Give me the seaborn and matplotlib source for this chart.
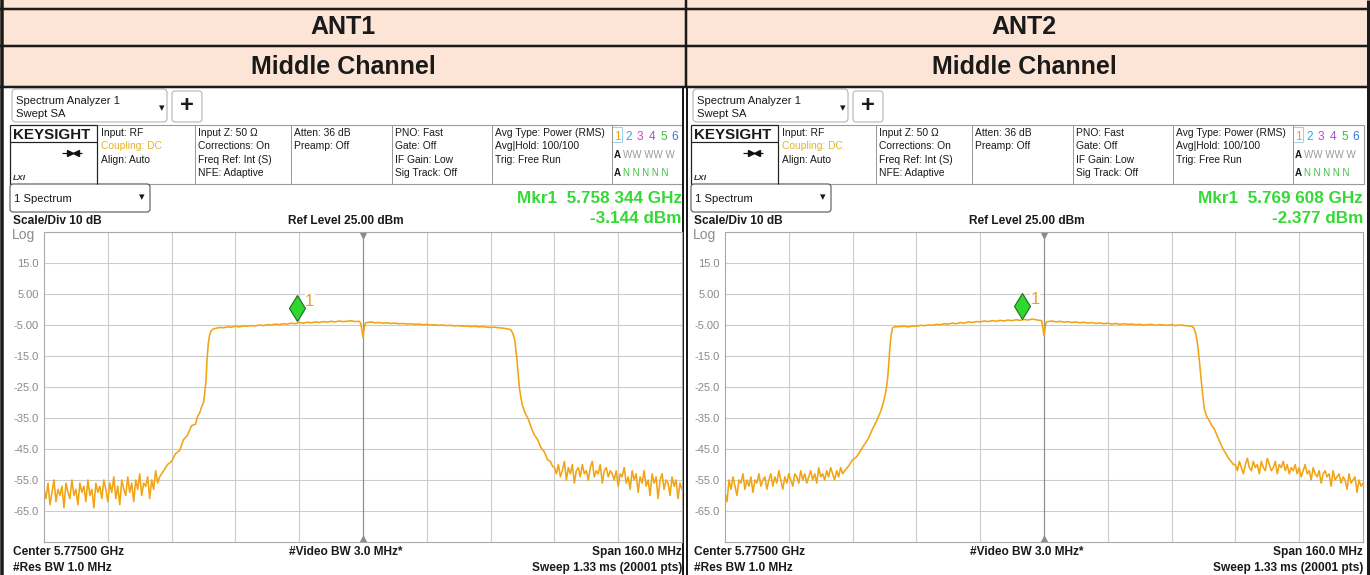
#Recreate two Keysight spectrum analyzer screenshots (ANT1 / ANT2, middle channel)

#Import the libraries
import numpy as np
import matplotlib
matplotlib.use('Agg')
import matplotlib.pyplot as plt
import seaborn as sns
from matplotlib.patches import Rectangle, FancyBboxPatch

sns.set_theme(style='white')
plt.rcParams['font.family'] = ['Liberation Sans', 'DejaVu Sans']

#Table headers and marker readouts
antennas = ['ANT1', 'ANT2']
channel = 'Middle Channel'
mkr_freq = [-16.656, -5.392]          # MHz offset from 5.775 GHz
mkr_level = [-3.144, -2.377]          # dBm
mkr_freq_text = ['Mkr1  5.758 344 GHz', 'Mkr1  5.769 608 GHz']
mkr_level_text = ['-3.144 dBm', '-2.377 dBm']

#Y axis (dBm)
y_ticks = [15, 5, -5, -15, -25, -35, -45, -55, -65]
y_labels = ['15.0', '5.00', '-5.00', '-15.0', '-25.0', '-35.0', '-45.0', '-55.0', '-65.0']

#Instrument settings text
info_cols = [
    ['Input: RF', 'Coupling: DC', 'Align: Auto'],
    ['Input Z: 50 Ω', 'Corrections: On', 'Freq Ref: Int (S)', 'NFE: Adaptive'],
    ['Atten: 36 dB', 'Preamp: Off'],
    ['PNO: Fast', 'Gate: Off', 'IF Gain: Low', 'Sig Track: Off'],
    ['Avg Type: Power (RMS)', 'Avg|Hold: 100/100', 'Trig: Free Run'],
]
bottom_left = ['Center 5.77500 GHz', '#Res BW 1.0 MHz']
bottom_mid = '#Video BW 3.0 MHz*'
bottom_right = ['Span 160.0 MHz', 'Sweep 1.33 ms (20001 pts)']

#ANT1 trace (dBm)
ant1_floor_lo = [-58, -61, -56, -63, -59, -55, -62, -58, -60, -57, -64, -56, -59, -61, -55, -60,
                 -58, -63, -56, -59, -57, -62, -55, -60, -58, -64, -56, -59, -57, -61, -55, -58,
                 -62, -56, -59, -54, -61, -57, -63, -55, -58, -60, -54, -59, -56, -62, -55, -58,
                 -53, -60, -56, -57, -54, -61, -55, -58, -52, -56, -54, -53]
ant1_skirt_lo_f = [-50, -49, -48, -47, -46, -45, -44, -43, -42, -41.5, -41, -40.5, -40, -39.7,
                   -39.4, -39.1, -38.8, -38.5, -38.2, -37.8, -37.3]
ant1_skirt_lo = [-52, -50, -49, -46.5, -45.5, -42, -40.5, -37.5, -37, -34.5, -33.5, -31.5, -30,
                 -27, -23.5, -16, -11, -8.5, -7.2, -6.5, -6.2]
ant1_plateau_lo = [-5.8, -5.9, -5.6, -5.7, -5.4, -5.6, -5.3, -5.4, -5.2, -5.3,
                   -5.0, -5.2, -4.9, -5.0, -4.7, -4.9, -4.6, -4.7, -4.4, -4.6,
                   -4.2, -4.4, -4.1, -4.3, -4.0, -4.2, -3.9, -4.1, -3.8, -4.0,
                   -3.7, -3.9, -3.8, -3.6, -3.9, -3.8]
ant1_dip = [-4.3, -6.5, -9.0, -6.0, -4.4]
ant1_plateau_hi = [-4.2, -4.0, -4.3, -4.2, -4.4, -4.3, -4.5, -4.4, -4.6, -4.5,
                   -4.7, -4.6, -4.8, -4.7, -4.9, -4.8, -5.0, -4.9, -5.1, -5.0,
                   -5.2, -5.1, -5.3, -5.2, -5.4, -5.3, -5.5, -5.4, -5.6, -5.5,
                   -5.7, -5.8, -5.7, -5.9, -6.0, -6.2]
ant1_skirt_hi_f = [37, 37.5, 38, 38.3, 38.6, 38.9, 39.2, 39.6, 40, 40.7, 41.5, 42.3, 43, 43.8,
                   44.6, 45.5, 46.3, 47, 47.5]
ant1_skirt_hi = [-6.5, -7.5, -9.5, -12.5, -16, -20.5, -25, -28.5, -31, -33.5, -35.5, -38.5,
                 -40.5, -42, -44.5, -46, -48.5, -49, -50.5]
ant1_floor_hi = [-51, -53, -50, -54, -52, -49, -55, -51, -53, -50, -56, -52, -51, -54, -50, -53,
                 -52, -55, -51, -49, -54, -52, -53, -50, -56, -52, -51, -54, -52,
                 -53, -55, -52, -57, -53, -54, -51, -56, -54, -58, -52, -55, -53, -59, -54, -56,
                 -52, -57, -55, -60, -53, -56, -54, -61, -55, -53, -58, -55, -56, -60, -54, -57,
                 -55, -61, -56, -58]

#ANT2 trace (dBm)
ant2_floor_lo = [-59, -62, -55, -58, -54, -57, -60, -55, -56, -53, -58, -55, -57, -54, -59, -55,
                 -56, -53, -57, -55, -54, -58, -55, -53, -57, -54, -56, -52, -55, -58, -54, -56,
                 -53, -55, -57, -53, -54, -56, -52, -55, -53, -56, -54, -52, -55, -53, -56, -51,
                 -54, -53, -55, -52, -54, -51, -53, -55, -52, -54, -51, -53]
ant2_skirt_lo_f = [-50, -49, -48, -47, -46, -45, -44, -43, -42, -41, -40.5, -40, -39.6, -39.2,
                   -38.9, -38.6, -38.3, -38, -37.5]
ant2_skirt_lo = [-52, -50.5, -48.5, -47.5, -45.5, -43.5, -41.5, -38.5, -36, -33, -31, -28.5,
                 -26, -22, -17, -11.5, -8, -6, -5.6]
ant2_plateau_lo = [-5.5, -5.4, -5.6, -5.3, -5.4, -5.1, -5.2, -5.0, -5.1, -4.8,
                   -4.9, -4.6, -4.7, -4.4, -4.6, -4.2, -4.4, -4.0, -4.2, -3.9,
                   -4.0, -3.7, -3.9, -3.6, -3.8, -3.5, -3.7, -3.4, -3.6, -3.3,
                   -3.5, -3.2, -3.4, -3.1, -3.3, -3.5]
ant2_dip = [-3.6, -5.8, -8.5, -5.6, -4.0]
ant2_plateau_hi = [-3.9, -3.7, -4.0, -3.8, -4.1, -3.9, -4.2, -4.0, -4.3, -4.1,
                   -4.4, -4.2, -4.5, -4.3, -4.6, -4.4, -4.7, -4.5, -4.8, -4.6,
                   -4.8, -4.7, -4.9, -4.8, -5.0, -4.9, -4.8, -5.1, -4.9, -5.0,
                   -5.1, -4.9, -5.2, -5.0, -5.1, -5.3]
ant2_skirt_hi_f = [37, 37.5, 38, 38.3, 38.6, 39, 39.4, 39.8, 40.2, 40.8, 41.5, 42.1, 42.7, 43.5,
                   44.2, 44.9, 45.6, 46.3, 46.9, 47.5]
ant2_skirt_hi = [-5.4, -5.8, -7.5, -9.5, -12, -17, -22.5, -27.5, -32, -34.5, -36, -37.5, -38.5,
                 -41, -43, -45, -46.5, -48, -49, -50]
ant2_floor_hi = [-50, -52, -49, -51, -53, -50, -48, -51, -52, -49, -51, -50, -53, -49, -51, -52,
                 -48, -50, -52, -51, -49, -53, -50, -51, -49, -52, -50, -53, -51,
                 -52, -50, -53, -51, -54, -52, -50, -53, -52, -55, -51, -53, -54, -52, -56, -53,
                 -52, -54, -53, -57, -52, -55, -54, -53, -56, -54, -55, -58, -53, -56, -55, -54,
                 -59, -55, -57, -56]

dip_f = [-0.6, -0.3, 0, 0.3, 0.6]


def build(floor_lo, sk_lo_f, sk_lo, pl_lo, dip, pl_hi, sk_hi_f, sk_hi, floor_hi):
    f = np.concatenate([np.linspace(-80, -50.5, len(floor_lo)), sk_lo_f, np.arange(-36, 0),
                        dip_f, np.arange(1, 37), sk_hi_f, np.linspace(48, 80, len(floor_hi))])
    y = np.concatenate([floor_lo, sk_lo, pl_lo, dip, pl_hi, sk_hi, floor_hi])
    return f, y


traces = [
    build(ant1_floor_lo, ant1_skirt_lo_f, ant1_skirt_lo, ant1_plateau_lo, ant1_dip,
          ant1_plateau_hi, ant1_skirt_hi_f, ant1_skirt_hi, ant1_floor_hi),
    build(ant2_floor_lo, ant2_skirt_lo_f, ant2_skirt_lo, ant2_plateau_lo, ant2_dip,
          ant2_plateau_hi, ant2_skirt_hi_f, ant2_skirt_hi, ant2_floor_hi),
]

#Colours
PEACH = '#fce4d6'
TRACE = '#f2a414'
GREEN = '#36d836'
ORANGE = '#e8a21c'
GRID = '#cbcbcb'
W, H = 1370, 575

fig = plt.figure(figsize=(W / 100, H / 100), dpi=100)
bg = fig.add_axes([0, 0, 1, 1])
bg.set_xlim(0, W)
bg.set_ylim(H, 0)
bg.axis('off')


def txt(x, y, s, size=7.7, color='#1a1a1a', weight='normal', ha='left', va='center_baseline', **kw):
    bg.text(x, y, s, fontsize=size, color=color, fontweight=weight, ha=ha, va=va, **kw)


def hline(y, x0, x1, color='k', px=1.0):
    bg.plot([x0, x1], [y, y], color=color, lw=px * 0.72, solid_capstyle='butt')


def vline(x, y0, y1, color='k', px=1.0):
    bg.plot([x, x], [y0, y1], color=color, lw=px * 0.72, solid_capstyle='butt')


#Table header rows
bg.add_patch(Rectangle((0, 0), W, 8, fc=PEACH, ec='none'))
bg.add_patch(Rectangle((0, 9), W, 77, fc=PEACH, ec='none'))
hline(8.5, 0, W, px=2.5)
hline(46, 0, W, px=2.5)
hline(86.5, 0, W, px=2.5)
vline(1.8, 0, H, px=3.5)
vline(686, 0, 87, px=2.5)
vline(683.5, 86, H, px=2)
vline(687.5, 86, H, px=2)
vline(1368.5, 0, H, px=3)

trace_cols = ['#e8a21c', '#25b0d6', '#d23fc6', '#a652d2', '#3cbf3c', '#2f78d8']

for i, dx in enumerate([0, 681]):
    txt(343 + dx, 27.5, antennas[i], 18, weight='bold', ha='center', va='center')
    txt(343 + dx, 66.5, channel, 18, weight='bold', ha='center', va='center')

    #Instrument selector and plus button
    bg.add_patch(FancyBboxPatch((12 + dx, 89), 155, 33, boxstyle='round,pad=0,rounding_size=4',
                                fc='white', ec='#b4b4b4', lw=0.8))
    txt(16 + dx, 100.5, 'Spectrum Analyzer 1', 8.1)
    txt(16 + dx, 113, 'Swept SA', 8.1)
    txt(162 + dx, 108.5, '▾', 8, ha='center', va='center')
    bg.add_patch(FancyBboxPatch((172 + dx, 91), 30, 31, boxstyle='round,pad=0,rounding_size=3',
                                fc='white', ec='#b4b4b4', lw=0.8))
    txt(187 + dx, 106, '+', 17, weight='bold', ha='center', va='center')

    #Settings bar
    bg.add_patch(Rectangle((10 + dx, 125), 673, 59, fc='white', ec='#9a9a9a', lw=0.8))
    for sx in [97, 195, 291, 392, 492, 612]:
        vline(sx + dx, 125, 184, color='#9a9a9a', px=1)
    hline(125, 10 + dx, 97 + dx, color='#222', px=1.2)
    hline(142, 10 + dx, 97 + dx, color='#222', px=1.2)
    vline(10 + dx, 125, 184, color='#222', px=1.2)
    vline(97 + dx, 125, 184, color='#222', px=1.2)
    txt(13 + dx, 133.5, 'KEYSIGHT', 10.9, weight='bold')
    hline(153, 62 + dx, 82 + dx, color='#111', px=1.2)
    bg.plot([70 + dx], [153], marker='>', ms=4.5, color='#111')
    bg.plot([76 + dx], [153], marker='<', ms=4.5, color='#111')
    txt(13 + dx, 177, 'LXI', 6, weight='bold', style='italic', color='#333')
    for cx, col in zip([101, 198, 294, 395, 495], info_cols):
        for r, s in enumerate(col):
            c = '#e6b22e' if s.startswith('Coupling') else '#1a1a1a'
            txt(cx + dx, 132 + r * 13.4, s, 7.4, color=c)
    for k, c in enumerate(trace_cols):
        txt(617 + dx + k * 11.6, 135, str(k + 1), 8.6, color=c, ha='center')
    bg.add_patch(Rectangle((612 + dx, 127), 10, 15, fc='none', ec='#8fc8e8', lw=0.6))
    txt(614 + dx, 153.5, 'A', 7, weight='bold')
    txt(623 + dx, 153.5, 'WW WW W', 7, color='#9a9a9a')
    txt(614 + dx, 172, 'A', 7, weight='bold')
    txt(623 + dx, 172, 'N N N N N', 7, color='#3cbf3c')

    #Window selector and readouts
    bg.add_patch(FancyBboxPatch((10 + dx, 184), 140, 28, boxstyle='round,pad=0,rounding_size=3',
                                fc='white', ec='#555555', lw=0.8))
    txt(14 + dx, 198, '1 Spectrum', 8.1)
    txt(142 + dx, 197.5, '▾', 8, ha='center', va='center')
    txt(682 + dx, 197, mkr_freq_text[i], 12.3, color=GREEN, weight='bold', ha='right')
    txt(682 + dx, 217, mkr_level_text[i], 12.3, color=GREEN, weight='bold', ha='right')
    txt(13 + dx, 219, 'Scale/Div 10 dB', 8.6, weight='bold')
    txt(346 + dx, 219, 'Ref Level 25.00 dBm', 8.6, weight='bold', ha='center')
    txt(12 + dx, 233, 'Log', 10, color='#8c8c8c')

    #Spectrum plot
    x0, x1, y0, y1 = 44 + dx, 682 + dx, 232, 542
    ax = fig.add_axes([x0 / W, 1 - y1 / H, (x1 - x0) / W, (y1 - y0) / H])
    f, lvl = traces[i]
    sns.lineplot(x=f, y=lvl, ax=ax, color=TRACE, linewidth=1.15, estimator=None, sort=False)
    ax.set_xlim(-80, 80)
    ax.set_ylim(-75, 25)
    ax.set_xticks(np.arange(-64, 80, 16))
    ax.set_yticks(y_ticks)
    ax.set_yticklabels(y_labels)
    ax.grid(True, color=GRID, lw=0.8)
    ax.set_axisbelow(True)
    ax.axvline(0, color='#8c8c8c', lw=0.8, zorder=1)
    ax.tick_params(axis='x', length=0, labelbottom=False)
    ax.tick_params(axis='y', length=0, pad=3.6, labelsize=8, labelcolor='#8a8a8a')
    ax.set_xlabel('')
    ax.set_ylabel('')
    for sp in ax.spines.values():
        sp.set_color('#a8a8a8')
        sp.set_linewidth(0.8)
    ax.plot([0], [24], marker='v', ms=5, color='#8c8c8c')
    ax.plot([0], [-74], marker='^', ms=5, color='#8c8c8c')

    #Marker 1
    ax.plot([mkr_freq[i]], [mkr_level[i] + 3.5], marker='d', ms=13, mfc='#2ed82e',
            mec='#1e6b1e', mew=0.8, zorder=5)
    ax.annotate('1', (mkr_freq[i], mkr_level[i] + 3.5), xytext=(6, 5), textcoords='offset points',
                color=ORANGE, fontsize=12, ha='left', va='center',
                bbox=dict(fc='white', ec='none', pad=0.3))

    #Footer text goes after the plot so the axes background does not hide it
    txt(13 + dx, 550.5, bottom_left[0], 8.6, weight='bold')
    txt(13 + dx, 566.5, bottom_left[1], 8.6, weight='bold')
    txt(346 + dx, 550.5, bottom_mid, 8.6, weight='bold', ha='center')
    txt(682 + dx, 550.5, bottom_right[0], 8.6, weight='bold', ha='right')
    txt(682 + dx, 566.5, bottom_right[1], 8.6, weight='bold', ha='right')

fig.savefig('out.png', dpi=100)
